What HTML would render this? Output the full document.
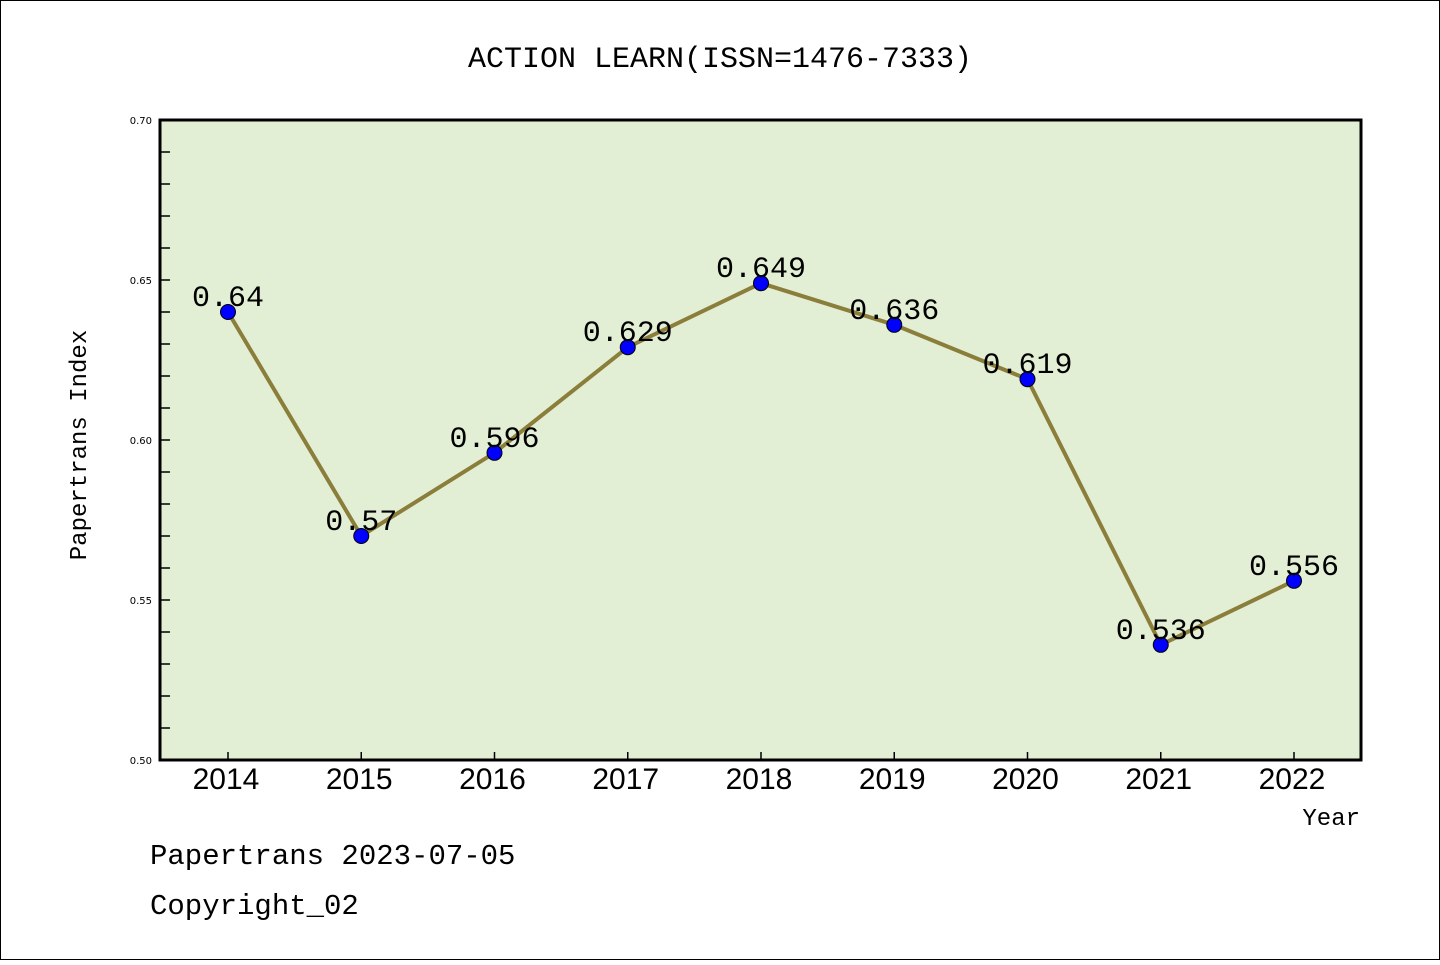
<!DOCTYPE html>
<html><head><meta charset="utf-8"><style>
body{margin:0;background:#fff}
svg text{font-family:"Liberation Sans",sans-serif}
svg text.m{font-family:"WenQuanYi Zen Hei Mono","Liberation Mono","WenQuanYi Zen Hei",monospace}
</style></head><body>
<svg width="1440" height="960" viewBox="0 0 1440 960">
<rect x="0.5" y="0.5" width="1439" height="959" fill="#fff" stroke="#000"/>
<text class="m" x="720" y="67" font-size="30" text-anchor="middle">ACTION LEARN(ISSN=1476-7333)</text>
<rect x="160" y="120" width="1201" height="640" fill="#e2efd5"/>
<g id="ticks"></g>
<polyline id="line" fill="none" stroke="#8b7d3a" stroke-width="4"/>
<g id="pts"></g>
<rect x="160" y="120" width="1201" height="640" fill="none" stroke="#000" stroke-width="3"/>
<text class="m" x="86" y="445" font-size="24" text-anchor="middle" transform="rotate(-90 86 445)">Papertrans Index</text>
<text class="m" x="1360" y="825" font-size="24" text-anchor="end">Year</text>
<text class="m" x="150" y="864" font-size="29">Papertrans 2023-07-05</text>
<text class="m" x="150" y="914" font-size="29">Copyright_02</text>
</svg>
<script>
const years=["2014","2015","2016","2017","2018","2019","2020","2021","2022"];
const values=[0.64,0.57,0.596,0.629,0.649,0.636,0.619,0.536,0.556];
const labels=["0.64","0.57","0.596","0.629","0.649","0.636","0.619","0.536","0.556"];
const yTicks=[0.50,0.55,0.60,0.65,0.70];
const yTickLabels=["0.50","0.55","0.60","0.65","0.70"];
const NS="http://www.w3.org/2000/svg";
const xs=i=>228+i*133.25;
const ys=v=>760-(v-0.5)/0.2*640;
function mk(t,a,p){const e=document.createElementNS(NS,t);for(const k in a)e.setAttribute(k,a[k]);p.appendChild(e);return e;}
const tg=document.getElementById('ticks');
for(let k=0;k<=20;k++){const v=0.5+k*0.01;const y=ys(v);
 const l=mk('line',{x1:160,x2:170,y1:y,y2:y,stroke:'#000','stroke-width':1.5},tg);
 
 }
yTicks.forEach((v,i)=>{const t=mk('text',{x:152,y:ys(v)+4,'font-size':10,'text-anchor':'end',style:'font-family:"DejaVu Sans",sans-serif'},tg);t.textContent=yTickLabels[i];
 
 });
years.forEach((yr,i)=>{const l=mk('line',{x1:xs(i),x2:xs(i),y1:760,y2:752,stroke:'#000','stroke-width':1.5},tg);
 
 
 const t=mk('text',{x:xs(i)-2,y:789,'font-size':30,'text-anchor':'middle'},tg);t.textContent=yr;
 
 });
document.getElementById('line').setAttribute('points',values.map((v,i)=>xs(i)+','+ys(v)).join(' '));
const pg=document.getElementById('pts');
values.forEach((v,i)=>{const c=mk('circle',{cx:xs(i),cy:ys(v),r:7.5,fill:'#0000ff',stroke:'#000','stroke-width':1},pg);
 
 
 const t=mk('text',{x:xs(i),y:ys(v)-6,'font-size':30,'text-anchor':'middle','class':'m'},pg);t.textContent=labels[i];
 
 });
</script>
</body></html>
